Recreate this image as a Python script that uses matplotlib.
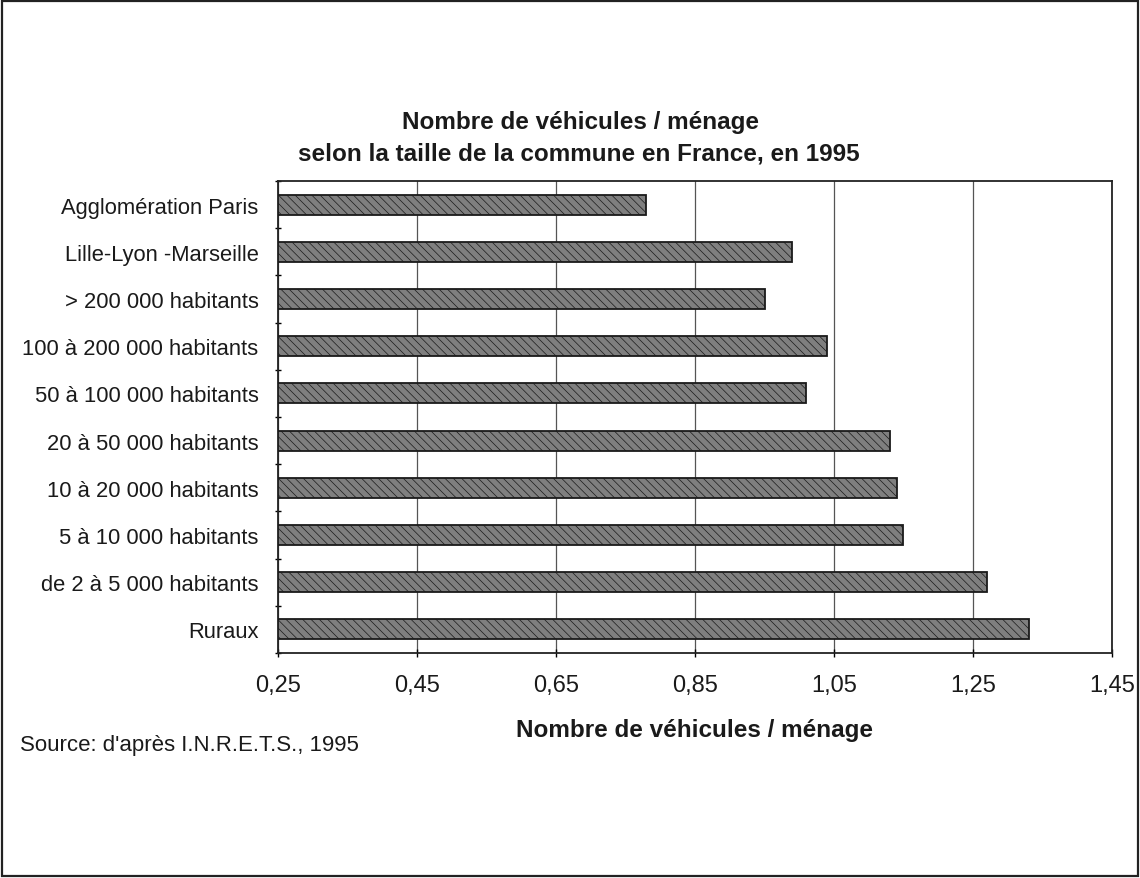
import matplotlib
matplotlib.use("Agg")
import matplotlib.pyplot as plt
from matplotlib.patches import Rectangle
import numpy as np

categories = [
    "Agglomération Paris",
    "Lille-Lyon -Marseille",
    "> 200 000 habitants",
    "100 à 200 000 habitants",
    "50 à 100 000 habitants",
    "20 à 50 000 habitants",
    "10 à 20 000 habitants",
    "5 à 10 000 habitants",
    "de 2 à 5 000 habitants",
    "Ruraux",
]
vehicles_per_household = [0.78, 0.99, 0.95, 1.04, 1.01, 1.13, 1.14, 1.15, 1.27, 1.33]
x_ticks = [0.25, 0.45, 0.65, 0.85, 1.05, 1.25, 1.45]
x_tick_labels = ["0,25", "0,45", "0,65", "0,85", "1,05", "1,25", "1,45"]

plt.rcParams["font.family"] = ["Liberation Sans", "DejaVu Sans"]
plt.rcParams["hatch.linewidth"] = 0.5
plt.rcParams["hatch.color"] = "#555555"

W, H = 1140, 879
fig = plt.figure(figsize=(W / 100, H / 100), dpi=100)
fig.patch.set_facecolor("white")

# outer frame
fig.patches.append(Rectangle((2 / W, 2 / H), (W - 4) / W, (H - 4) / H,
                             transform=fig.transFigure, fill=False,
                             edgecolor="#222222", linewidth=1.6))

ax_l, ax_r, ax_t, ax_b = 278, 1112, 182, 654
ax = fig.add_axes([ax_l / W, 1 - ax_b / H, (ax_r - ax_l) / W, (ax_b - ax_t) / H])

n = len(categories)
y = np.arange(n)
ax.barh(y, np.array(vehicles_per_household) - 0.25, left=0.25, height=0.42,
        color="#7f7f7f", edgecolor="#1a1a1a", linewidth=1.3, hatch="\\\\\\\\",
        zorder=3)

ax.set_xlim(0.25, 1.45)
ax.set_ylim(n - 0.5, -0.5)
ax.set_xticks(x_ticks)
ax.set_xticklabels(x_tick_labels, fontsize=17, color="#1a1a1a")
ax.set_yticks(y)
ax.set_yticklabels(categories, fontsize=15.8, color="#1a1a1a")
ax.tick_params(axis="y", length=0, pad=14)
ax.set_yticks(np.arange(-0.5, n, 1.0), minor=True)
ax.tick_params(axis="y", which="minor", length=5, direction="inout", width=1)
ax.tick_params(axis="x", length=6, direction="inout", width=1, pad=12)

ax.grid(axis="x", color="#555555", linewidth=0.9, zorder=0)
for s in ax.spines.values():
    s.set_color("#222222")
    s.set_linewidth(1.3)

fig.text(580 / W, 1 - 122 / H, "Nombre de véhicules / ménage",
         ha="center", va="center", fontsize=17.5, fontweight="bold", color="#1a1a1a")
fig.text(579 / W, 1 - 154 / H, "selon la taille de la commune en France, en 1995",
         ha="center", va="center", fontsize=17.5, fontweight="bold", color="#1a1a1a")
fig.text(695 / W, 1 - 731 / H, "Nombre de véhicules / ménage",
         ha="center", va="center", fontsize=17.5, fontweight="bold", color="#1a1a1a")
fig.text(20 / W, 1 - 746 / H, "Source: d'après I.N.R.E.T.S., 1995",
         ha="left", va="center", fontsize=16, color="#1a1a1a")

fig.savefig("out.png", dpi=100)
